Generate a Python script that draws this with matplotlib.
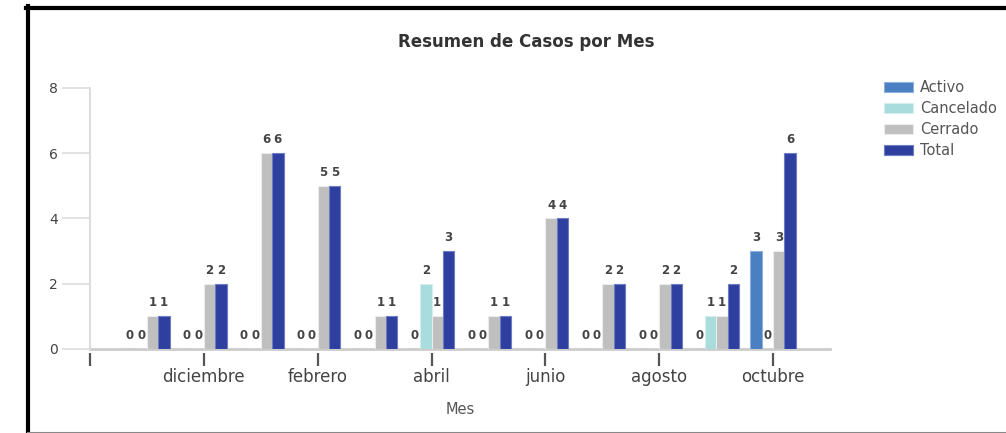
import matplotlib
matplotlib.use("Agg")
import matplotlib.pyplot as plt
from matplotlib.lines import Line2D
import numpy as np

# data
months = ["noviembre", "diciembre", "enero", "febrero", "marzo", "abril",
          "mayo", "junio", "julio", "agosto", "septiembre", "octubre"]
activo = [0, 0, 0, 0, 0, 0, 0, 0, 0, 0, 0, 3]
cancelado = [0, 0, 0, 0, 0, 2, 0, 0, 0, 0, 1, 0]
cerrado = [1, 2, 6, 5, 1, 1, 1, 4, 2, 2, 1, 3]
total = [1, 2, 6, 5, 1, 3, 1, 4, 2, 2, 2, 6]
series_names = ["Activo", "Cancelado", "Cerrado", "Total"]
tick_labels = ["", "diciembre", "febrero", "abril", "junio", "agosto", "octubre"]

# style
colors = ["#4a7fc1", "#a9dcdc", "#bfbfbf", "#2f3f9f"]
edges = ["#8fb0dc", "#d6eeee", "#ececec", "#6f7cc4"]
W, H = 1006, 433

fig = plt.figure(figsize=(W / 100, H / 100), dpi=100)
ax = fig.add_axes([90 / W, (H - 349) / H, 740 / W, (349 - 88) / H])

x = np.arange(len(months))
w = 0.2
for i, vals in enumerate([activo, cancelado, cerrado, total]):
    pos = x + (i - 1.5) * w
    bars = ax.bar(pos, vals, width=w, color=colors[i], edgecolor=edges[i],
                  linewidth=0.8, label=series_names[i], zorder=3)
    for b, v in zip(bars, vals):
        ax.annotate(str(v), (b.get_x() + b.get_width() / 2, v),
                    xytext=(0, 5), textcoords="offset points",
                    ha="center", va="bottom", fontsize=8.5, color="#444444",
                    fontweight="bold")

ax.set_xlim(-1, 12)
ax.set_ylim(0, 8)

# axes look
for s in ["top", "right"]:
    ax.spines[s].set_visible(False)
ax.spines["left"].set_color("#dddddd")
ax.spines["left"].set_linewidth(1.5)
ax.spines["bottom"].set_position(("outward", 3))
ax.spines["bottom"].set_visible(False)
ax.axhline(0, color="#cccccc", linewidth=2, zorder=2, clip_on=False)

ax.set_yticks([0, 2, 4, 6, 8])
ax.tick_params(axis="y", length=20, width=1.2, color="#dddddd",
               labelcolor="#444444", labelsize=10, pad=3)
ax.set_xticks([-1, 1, 3, 5, 7, 9, 11])
ax.set_xticklabels(tick_labels)
ax.tick_params(axis="x", length=9, width=1.6, color="#555555",
               labelcolor="#444444", labelsize=12, pad=2)
ax.set_xlabel("Mes", fontsize=10.5, color="#555555", labelpad=11)

fig.text(526 / W, 1 - 42 / H, "Resumen de Casos por Mes", ha="center",
         va="center", fontsize=12, fontweight="bold", color="#333333")

fig.legend(loc="upper left", bbox_to_anchor=(884 / W, 1 - 80 / H),
           frameon=False, fontsize=10.5, labelcolor="#555555",
           handlelength=2.0, handleheight=0.7, labelspacing=0.42,
           handletextpad=0.45, borderaxespad=0, borderpad=0)

# screenshot frame
fig.add_artist(Line2D([28 / W, 28 / W], [0, 1 - 6 / H], color="black",
                      linewidth=3, transform=fig.transFigure))
fig.add_artist(Line2D([26 / W, 1], [1 - 8 / H, 1 - 8 / H], color="black",
                      linewidth=3, transform=fig.transFigure))
fig.add_artist(Line2D([28 / W, 1], [0.5 / H, 0.5 / H], color="#888888",
                      linewidth=1.5, transform=fig.transFigure))

fig.savefig("out.png", dpi=100, facecolor="white")
